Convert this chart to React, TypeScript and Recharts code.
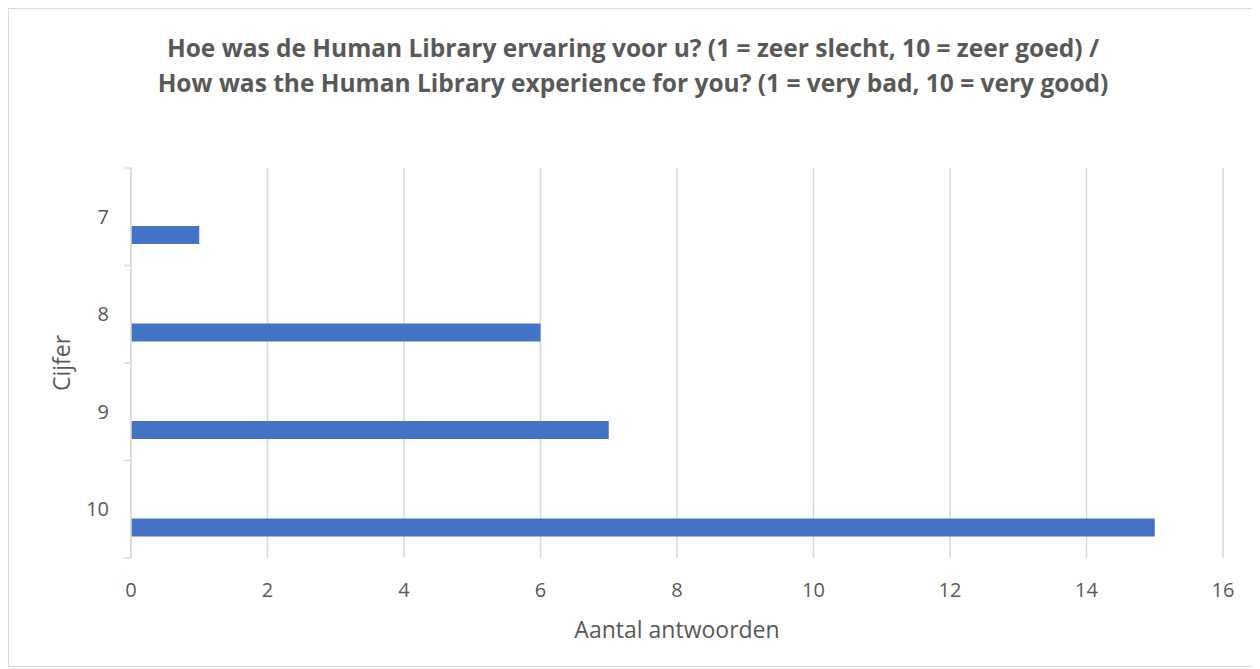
import { BarChart, Bar, XAxis, YAxis, CartesianGrid, Label } from 'recharts';

const CIJFERS = ['7', '8', '9', '10'];
const ANTWOORDEN = [1, 6, 7, 15];
const LEEG: (number | null)[] = [null, null, null, null];
const X_TICKS = [0, 2, 4, 6, 8, 10, 12, 14, 16];

const data = CIJFERS.map((c, i) => ({ cijfer: c, leeg: LEEG[i], aantal: ANTWOORDEN[i] }));

const TEXT = '#595959';
const GRID = '#d9d9d9';
const FONT = '"Open Sans", "Liberation Sans", sans-serif';

const W = 1248;
const H = 657;
const M = { top: 159, right: 34, left: 0, bottom: 0 };
const Y_W = 122;
const X_H = 108;
const BAND = (H - M.top - X_H) / CIJFERS.length;

function CatTick(props: any) {
  const { x, y, payload, index } = props;
  const ax = x + 22;
  return (
    <g>
      <text x={x} y={y} dy={7} textAnchor="end" fill={TEXT} fontSize={20} fontFamily={FONT}>
        {payload.value}
      </text>
      <line x1={ax - 7} x2={ax} y1={y - BAND / 2} y2={y - BAND / 2} stroke={GRID} strokeWidth={1.5} />
      {index === CIJFERS.length - 1 && (
        <line x1={ax - 7} x2={ax} y1={y + BAND / 2} y2={y + BAND / 2} stroke={GRID} strokeWidth={1.5} />
      )}
    </g>
  );
}

export default function App() {
  return (
    <div
      style={{
        position: 'relative',
        width: 1250,
        height: 659,
        boxSizing: 'border-box',
        border: '1px solid #d9d9d9',
        background: '#fff',
        fontFamily: FONT,
      }}
    >
      <div
        style={{
          position: 'absolute',
          top: 21,
          left: 0,
          width: 1248,
          textAlign: 'center',
          color: TEXT,
          fontWeight: 700,
          fontSize: 24.5,
          lineHeight: '35px',
        }}
      >
        Hoe was de Human Library ervaring voor u? (1 = zeer slecht, 10 = zeer goed) /
        <br />
        How was the Human Library experience for you? (1 = very bad, 10 = very good)
      </div>
      <BarChart
        width={W}
        height={H}
        data={data}
        layout="vertical"
        margin={M}
        barSize={18}
        barGap={19}
      >
        <CartesianGrid horizontal={false} stroke={GRID} strokeWidth={1.5} />
        <XAxis
          type="number"
          domain={[0, 16]}
          ticks={X_TICKS}
          height={X_H}
          axisLine={false}
          tickLine={false}
          tickSize={0}
          tickMargin={25}
          tick={{ fill: TEXT, fontSize: 20, fontFamily: FONT }}
        >
          <Label value="Aantal antwoorden" position="insideTop" offset={64} fill={TEXT} fontSize={23} fontFamily={FONT} />
        </XAxis>
        <YAxis
          type="category"
          dataKey="cijfer"
          width={Y_W}
          axisLine={{ stroke: GRID, strokeWidth: 1.5 }}
          tickLine={false}
          tickSize={0}
          tickMargin={22}
          tick={<CatTick />}
        >
          <Label value="Cijfer" angle={-90} position="insideLeft" offset={53} fill={TEXT} fontSize={23} fontFamily={FONT} style={{ textAnchor: 'middle' }} />
        </YAxis>
        <Bar dataKey="leeg" fill="#ed7d31" isAnimationActive={false} />
        <Bar dataKey="aantal" fill="#4472c4" isAnimationActive={false} />
      </BarChart>
    </div>
  );
}
